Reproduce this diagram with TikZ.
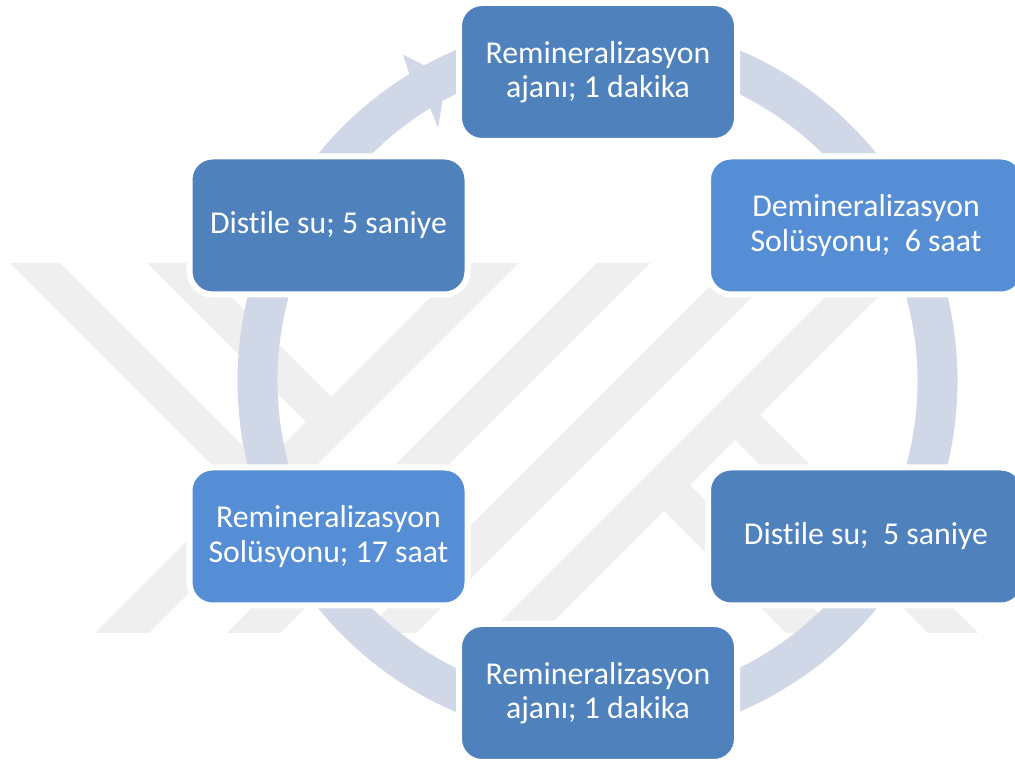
\documentclass[tikz,border=0pt]{standalone}
\usepackage{fontspec}
\setmainfont{Carlito}[Ligatures=NoCommon]
\definecolor{boxdark}{RGB}{79,129,189}
\definecolor{boxlight}{RGB}{85,142,213}
\definecolor{ringc}{RGB}{208,216,232}
\definecolor{wmark}{RGB}{239,239,239}
\begin{document}
\begin{tikzpicture}[x=1pt,y=1pt,
  stepbox/.style={draw=white, line width=6pt, rounded corners=23pt, text=white,
    align=center, font=\fontsize{31.8}{34.5}\selectfont, minimum height=138pt, inner sep=0pt},
  narrowbox/.style={stepbox, minimum width=278pt},
  widebox/.style={stepbox, minimum width=316pt},
  wm/.style={fill=wmark},
  ring/.style={fill=ringc}]
\useasboundingbox (0,0) rectangle (1015,771);
\fill[white] (0,0) rectangle (1015,771);
% watermark
\fill[wm] (10,508) -- (60,508) -- (267,301) -- (217,301) -- cycle;
\fill[wm] (147,508) -- (197,508) -- (331,374) -- (306,349) -- cycle;
\fill[wm] (465,508) -- (519,508) -- (149,138) -- (95,138) -- cycle;
\fill[wm] (597,508) -- (650,508) -- (280,138) -- (227,138) -- cycle;
\fill[wm] (733,508) -- (786,508) -- (416,138) -- (363,138) -- cycle;
\fill[wm] (859,508) -- (912,508) -- (542,138) -- (489,138) -- cycle;
\fill[wm] (760,356) -- (978,138) -- (928,138) -- (735,331) -- cycle;
\fill[wm] (690,286) -- (838,138) -- (786,138) -- (664,260) -- cycle;
% ring arrow
\begin{scope}[shift={(597.5,390)}]
\fill[ring] (121.5:360) arc[start angle=121.5, end angle=-260, radius=360pt]
  -- (-260:320) arc[start angle=-260, end angle=121.5, radius=320pt]
  -- (122.2:299) -- (116.4:340) -- (120.8:380) -- cycle;
\end{scope}
% boxes
\node[narrowbox, fill=boxdark] (b1) at (598,699) {Remineralizasyon\\ajanı; 1 dakika};
\node[widebox, fill=boxlight] (b2) at (866,545.5) {Demineralizasyon\\Solüsyonu;\ \ 6 saat};
\node[widebox, fill=boxdark] (b3) at (866,234.5) {Distile su;\ \ 5 saniye};
\node[narrowbox, fill=boxdark] (b4) at (598,78) {Remineralizasyon\\ajanı; 1 dakika};
\node[narrowbox, fill=boxlight] (b5) at (328.5,234.5) {Remineralizasyon\\Solüsyonu; 17 saat};
\node[narrowbox, fill=boxdark] (b6) at (328.5,545.5) {Distile su; 5 saniye};
\end{tikzpicture}
\end{document}
